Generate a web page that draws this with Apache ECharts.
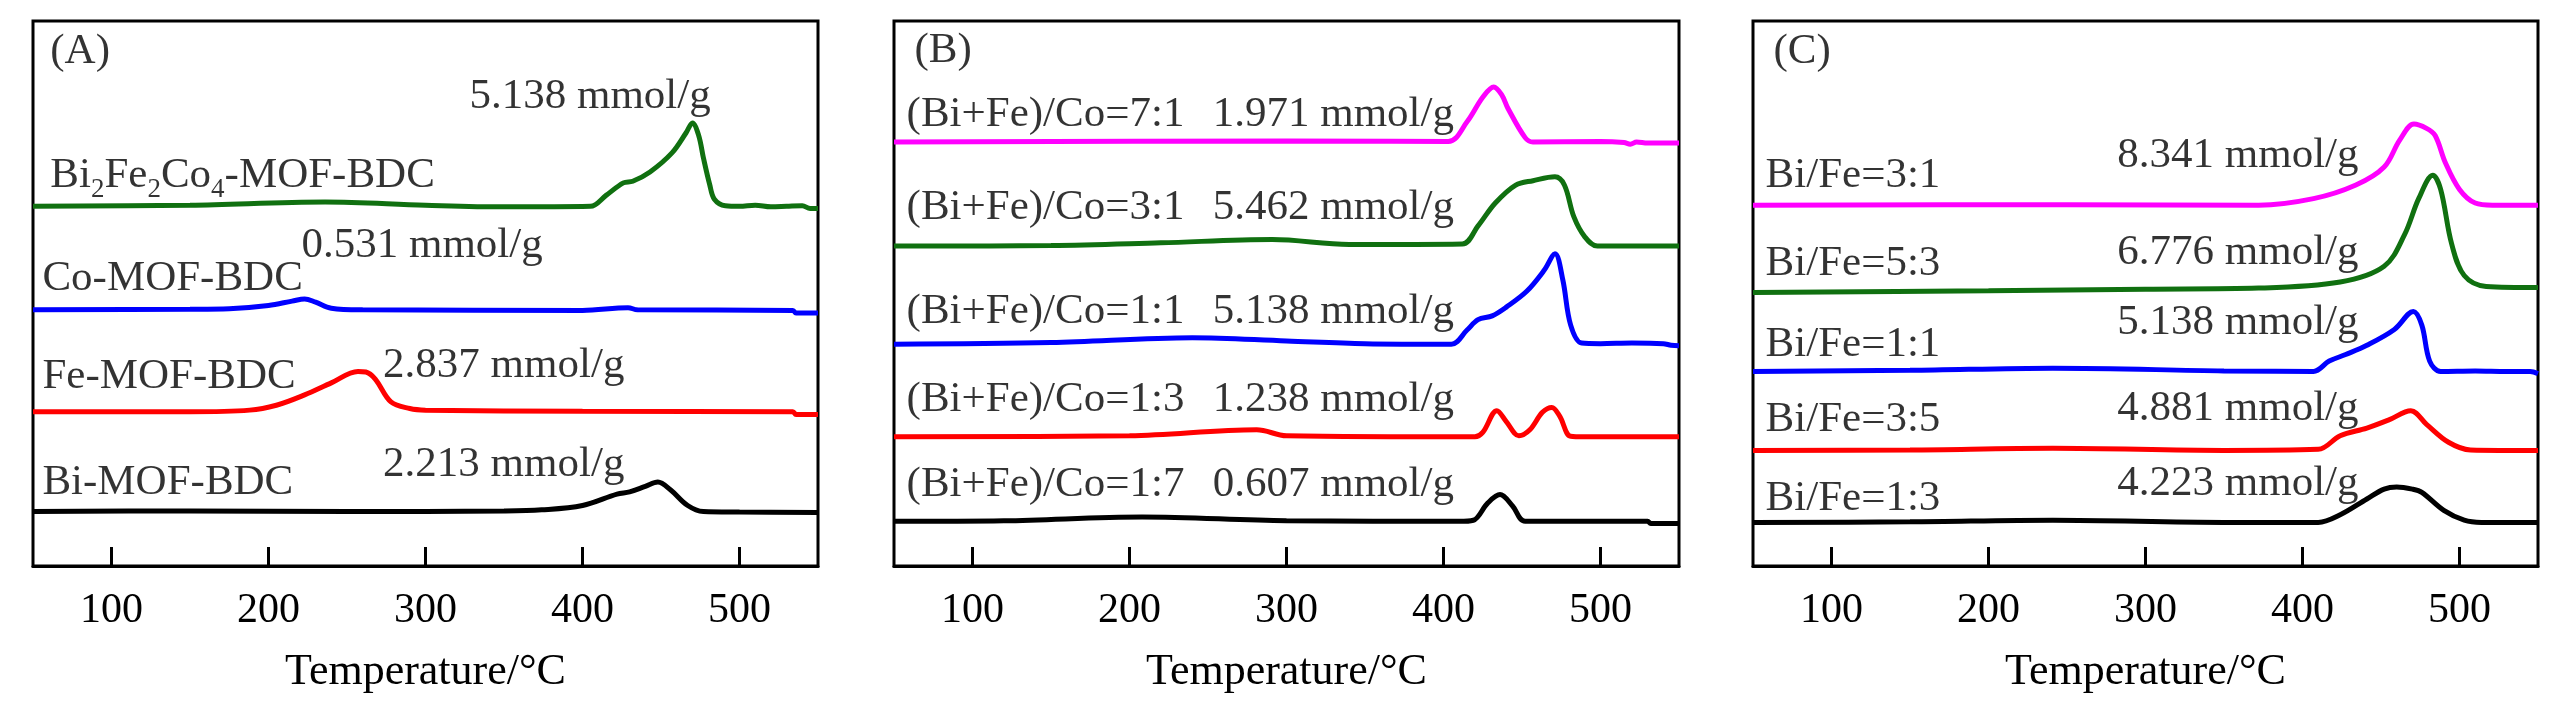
<!DOCTYPE html>
<html>
<head>
<meta charset="utf-8">
<script src="https://cdn.jsdelivr.net/npm/echarts@6/dist/echarts.min.js"></script>
<style>
  html, body { margin: 0; padding: 0; background: #fff; }
  #main { width: 2567px; height: 709px; }
</style>
</head>
<body>
<div id="main"></div>
<script>
// x ticks shared by all three panels (temperature, °C)
var tempTicks = [100, 200, 300, 400, 500];

// ---- panel A : single-metal MOFs vs trimetallic, [T, signal a.u.] ----
var aBi = [[50,10.0],[150,10.1],[250,10.0],[350,10.1],[374,10.3],[400,11.1],[422,13.2],[430,13.6],[440,14.6],[448,15.4],[456,14.0],[467,11.1],[477,10.0],[500,9.9],[550,9.8]];
var aFe = [[50,28.3],[150,28.3],[188,28.6],[205,29.5],[223,31.4],[240,33.6],[257,35.7],[262,35.6],[268,34.3],[278,30.1],[290,28.9],[300,28.6],[400,28.4],[534,28.3],[536,27.8],[550,27.8]];
var aCo = [[50,47.0],[150,47.1],[175,47.2],[200,47.8],[215,48.6],[223,49.0],[230,48.4],[240,47.3],[260,47.0],[400,46.9],[429,47.4],[435,47.0],[534,46.9],[536,46.4],[550,46.4]];
var aBiFeCo = [[50,66.0],[150,66.2],[236,66.8],[300,66.2],[350,65.9],[405,66.0],[415,68.0],[426,70.3],[432,70.6],[443,72.3],[457,75.8],[466,79.5],[470,81.3],[474,79.0],[477,74.9],[481,70.0],[484,67.3],[491,66.1],[500,66.0],[510,66.2],[520,65.9],[530,66.0],[540,66.1],[545,65.6],[550,65.6]];
var aText = ['(A)', '5.138 mmol/g', 'Bi{s|2}Fe{s|2}Co{s|4}-MOF-BDC', '0.531 mmol/g', 'Co-MOF-BDC', '2.837 mmol/g', 'Fe-MOF-BDC', '2.213 mmol/g', 'Bi-MOF-BDC'];
var aTextAt = [[61,94.3],[328,86.1],[61,71.6],[221,58.7],[56,52.8],[273,36.7],[56,34.7],[273,18.5],[56,15.2]];

// ---- panel B : (Bi+Fe)/Co ratio ----
var b17 = [[50,8.2],[120,8.3],[208,9.0],[300,8.3],[410,8.2],[419,8.4],[428,11.5],[436,13.1],[444,11.0],[452,8.2],[530,8.2],[532,7.8],[550,7.8]];
var b13 = [[50,23.7],[200,23.9],[281,25.0],[300,23.9],[420,23.7],[425,24.5],[434,28.5],[440,26.5],[448,23.9],[455,25.0],[463,28.2],[469,29.1],[474,27.5],[481,23.8],[490,23.7],[550,23.7]];
var b11 = [[50,40.7],[150,41.0],[240,41.9],[300,41.3],[350,40.8],[405,40.7],[415,43.3],[422,45.2],[431,45.9],[440,47.5],[453,50.4],[464,54.2],[471,57.3],[476,52.5],[481,44.2],[488,40.9],[500,40.8],[520,40.9],[540,40.8],[545,40.5],[550,40.4]];
var b31 = [[50,58.7],[150,58.8],[220,59.3],[291,59.9],[340,59.0],[412,59.1],[422,62.4],[433,66.6],[446,69.9],[457,70.7],[471,71.4],[477,69.9],[483,64.1],[490,60.4],[498,58.7],[550,58.7]];
var b71 = [[50,77.8],[300,78.0],[403,77.9],[415,81.5],[425,86.0],[432,87.9],[437,86.5],[441,84.0],[452,78.6],[457,77.8],[500,77.9],[515,77.7],[519,77.4],[523,77.8],[530,77.6],[550,77.6]];
var bText = ['(B)',
  '(Bi+Fe)/Co=7:1', '1.971 mmol/g',
  '(Bi+Fe)/Co=3:1', '5.462 mmol/g',
  '(Bi+Fe)/Co=1:1', '5.138 mmol/g',
  '(Bi+Fe)/Co=1:3', '1.238 mmol/g',
  '(Bi+Fe)/Co=1:7', '0.607 mmol/g'];
var bTextAt = [[63,94.5],[58,82.8],[253,82.8],[58,65.7],[253,65.7],[58,46.7],[253,46.7],[58,30.5],[253,30.5],[58,14.9],[253,14.9]];

// ---- panel C : Bi/Fe ratio ----
var c13 = [[50,8.0],[150,8.1],[241,8.4],[350,8.0],[410,8.0],[424,9.4],[441,12.3],[452,14.1],[460,14.5],[470,14.1],[476,13.5],[490,10.2],[503,8.4],[514,8.0],[550,8.0]];
var c35 = [[50,21.2],[150,21.3],[241,21.6],[350,21.2],[410,21.4],[424,23.9],[441,25.3],[455,26.8],[469,28.5],[479,26.0],[493,22.7],[507,21.3],[550,21.2]];
var c11 = [[50,35.7],[150,35.9],[241,36.3],[350,35.8],[407,35.7],[417,37.6],[427.5,38.8],[441,40.5],[458.5,43.4],[470.6,46.7],[476,44.2],[481,37.6],[488,35.7],[510,35.8],[530,35.7],[545,35.7],[550,35.3]];
var c53 = [[50,50.2],[200,50.5],[300,50.8],[372,51.0],[424,52.1],[452,55.0],[465,60.8],[474,67.4],[483,71.7],[488,69.1],[495,59.1],[503,53.3],[517,51.3],[550,51.1]];
var c31 = [[50,66.2],[250,66.3],[372,66.2],[407,67.4],[434,69.9],[452,73.2],[462,78.2],[471,81.1],[479,80.3],[484.5,79.0],[491,74.0],[500,69.1],[510,66.6],[521,66.2],[550,66.2]];
var cText = ['(C)',
  'Bi/Fe=3:1', '8.341 mmol/g',
  'Bi/Fe=5:3', '6.776 mmol/g',
  'Bi/Fe=1:1', '5.138 mmol/g',
  'Bi/Fe=3:5', '4.881 mmol/g',
  'Bi/Fe=1:3', '4.223 mmol/g'];
var cTextAt = [[63,94.3],[58,71.6],[282,75.2],[58,55.4],[282,57.4],[58,40.6],[282,44.6],[58,26.8],[282,28.8],[58,12.3],[282,15.1]];

var FONT = 'Liberation Serif';
var GREEN = '#107010', BLUE = '#0000ff', RED = '#ff0000', PINK = '#ff00ff', BLACK = '#000000';

var chart = echarts.init(document.getElementById('main'));

var grids = [], xAxes = [], yAxes = [], series = [];
var lefts = [33, 894, 1753];

lefts.forEach(function (left, i) {
  grids.push({ left: left, top: 21, width: 785, height: 545, show: true,
               borderColor: '#000', borderWidth: 3, backgroundColor: 'transparent' });
  xAxes.push({
    gridIndex: i, type: 'value', min: 50, max: 550,
    name: 'Temperature/°C', nameLocation: 'middle', nameGap: 84,
    nameTextStyle: { fontFamily: FONT, fontSize: 44, color: '#000' },
    axisLine: { show: true, lineStyle: { color: '#000', width: 3 } },
    axisTick: { show: true, inside: true, length: 19, lineStyle: { color: '#000', width: 3 }, customValues: tempTicks },
    axisLabel: { fontFamily: FONT, fontSize: 42, color: '#000', margin: 24, customValues: tempTicks },
    splitLine: { show: false }
  });
  yAxes.push({ gridIndex: i, type: 'value', min: 0, max: 100, show: false });
});

function curve(i, data, color) {
  series.push({
    type: 'line', xAxisIndex: i, yAxisIndex: i, data: data,
    showSymbol: false, smooth: 0.35, lineStyle: { color: color, width: 5 },
    silent: true
  });
}

function labels(i, texts, at) {
  series.push({
    type: 'scatter', xAxisIndex: i, yAxisIndex: i, symbolSize: 0, silent: true,
    data: texts.map(function (t, k) { return { name: t, value: at[k] }; }),
    label: {
      show: true, position: 'right', distance: 0,
      formatter: function (p) { return p.name; },
      fontFamily: FONT, fontSize: 43, color: '#000',
      rich: { s: { fontFamily: FONT, fontSize: 27, color: '#000', verticalAlign: 'bottom', padding: [0, 0, -6, 0] } }
    }
  });
}

curve(0, aBi, BLACK); curve(0, aFe, RED); curve(0, aCo, BLUE); curve(0, aBiFeCo, GREEN);
labels(0, aText, aTextAt);
curve(1, b17, BLACK); curve(1, b13, RED); curve(1, b11, BLUE); curve(1, b31, GREEN); curve(1, b71, PINK);
labels(1, bText, bTextAt);
curve(2, c13, BLACK); curve(2, c35, RED); curve(2, c11, BLUE); curve(2, c53, GREEN); curve(2, c31, PINK);
labels(2, cText, cTextAt);

chart.setOption({
  animation: false,
  backgroundColor: '#fff',
  grid: grids, xAxis: xAxes, yAxis: yAxes, series: series
});
</script>
</body>
</html>
